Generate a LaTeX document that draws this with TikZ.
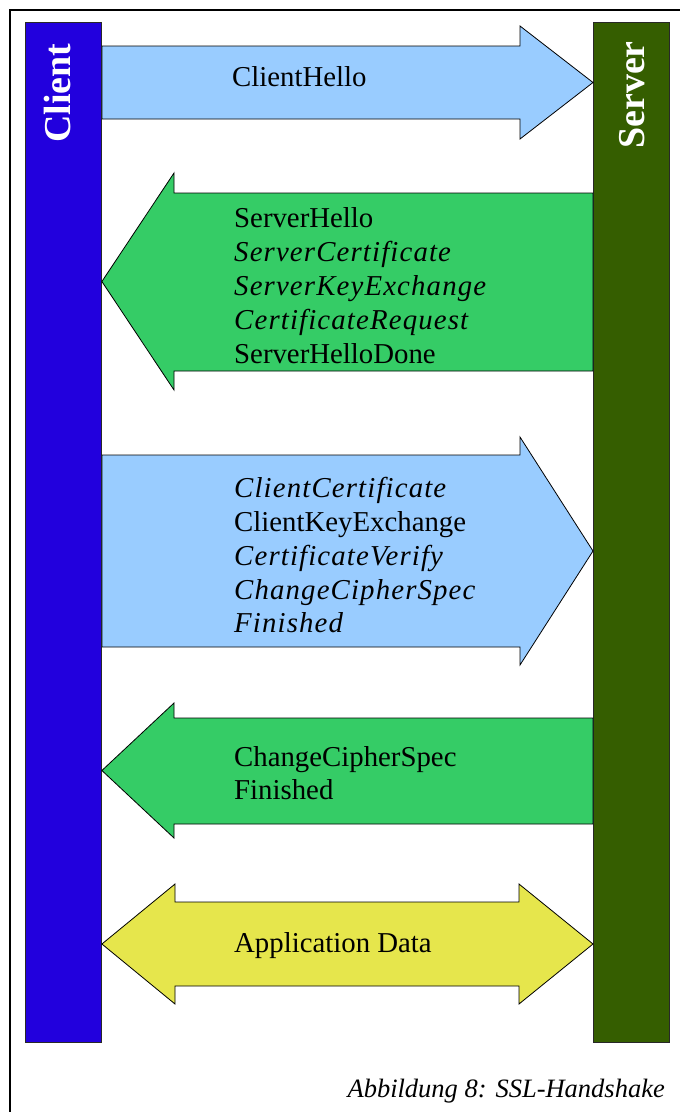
\documentclass[tikz,border=0pt]{standalone}
\usepackage{fontspec}
\setmainfont{Liberation Serif}
% slightly tracked italic for the optional messages
\newfontfamily\optfamily{Liberation Serif}[LetterSpace=4]
\definecolor{clientblue}{RGB}{34,0,221}
\definecolor{serverdark}{RGB}{53,94,0}
\definecolor{msgblue}{RGB}{153,204,255}
\definecolor{msggreen}{RGB}{53,204,102}
\definecolor{msgyellow}{RGB}{230,230,76}
\definecolor{edge}{RGB}{40,40,40}
\begin{document}
\begin{tikzpicture}[x=1pt,y=-1pt,
  party/.style={draw=edge,line width=0.9pt,minimum width=76pt,minimum height=1020pt,inner sep=0pt},
  partylabel/.style={text=white,font=\fontsize{38}{40}\selectfont\bfseries,rotate=90,anchor=base,inner sep=0pt},
  msg/.style={draw=black,line width=0.8pt,line join=miter},
  msgtext/.style={anchor=base west,inner sep=0pt,font=\fontsize{28.8}{34}\selectfont},
  opt/.style={msgtext,font=\fontsize{28.8}{34}\optfamily\itshape}]
% page area
\fill[white] (0,0) rectangle (680,1112);
\useasboundingbox (0,0) rectangle (680,1112);
% frame
\draw[line width=1.4pt] (10,1112) -- (10,10) -- (680,10);

% the two parties
\node[party,fill=clientblue,anchor=north west] (client) at (25,22) {};
\node[party,fill=serverdark,anchor=north west] (server) at (593,22) {};
\node[partylabel] (clientlbl) at (70,93) {Client};
\node[partylabel] (serverlbl) at (644,95) {Server};

% message arrows
\draw[msg,fill=msgblue] (client.east |- 0,46) -- (520,46) -- (520,26)
  -- (server.west |- 0,82.5) -- (520,139) -- (520,119) -- (client.east |- 0,119) -- cycle;
\draw[msg,fill=msggreen] (server.west |- 0,193) -- (174,193) -- (174,173)
  -- (client.east |- 0,281.5) -- (174,390) -- (174,371) -- (server.west |- 0,371) -- cycle;
\draw[msg,fill=msgblue] (client.east |- 0,455) -- (520,455) -- (520,437)
  -- (server.west |- 0,551) -- (520,665) -- (520,647) -- (client.east |- 0,647) -- cycle;
\draw[msg,fill=msggreen] (server.west |- 0,718) -- (174,718) -- (174,703)
  -- (client.east |- 0,770.5) -- (174,838) -- (174,824) -- (server.west |- 0,824) -- cycle;
\draw[msg,fill=msgyellow] (client.east |- 0,944) -- (175,884) -- (175,902) -- (519,902)
  -- (519,884) -- (server.west |- 0,944) -- (519,1004) -- (519,986) -- (175,986)
  -- (175,1004) -- cycle;

% message contents
\node[msgtext] (m1) at (232,86) {ClientHello};

\node[msgtext] (m2a) at (234,227) {ServerHello};
\node[opt]     (m2b) at (234,261) {ServerCertificate};
\node[opt]     (m2c) at (234,295) {ServerKeyExchange};
\node[opt]     (m2d) at (234,329) {CertificateRequest};
\node[msgtext] (m2e) at (234,363) {ServerHelloDone};

\node[opt]     (m3a) at (234,497) {ClientCertificate};
\node[msgtext] (m3b) at (234,531) {ClientKeyExchange};
\node[opt]     (m3c) at (234,565) {CertificateVerify};
\node[opt]     (m3d) at (234,599) {ChangeCipherSpec};
\node[opt]     (m3e) at (234,632) {Finished};

\node[msgtext] (m4a) at (234,766) {ChangeCipherSpec};
\node[msgtext] (m4b) at (234,799) {Finished};

\node[msgtext] (m5) at (234,952) {Application Data};

% caption
\node[anchor=base east,inner sep=0pt,font=\fontsize{26.5}{30}\selectfont\itshape] (caption) at (665,1097) {Abbildung 8: SSL-Handshake};
\end{tikzpicture}
\end{document}
